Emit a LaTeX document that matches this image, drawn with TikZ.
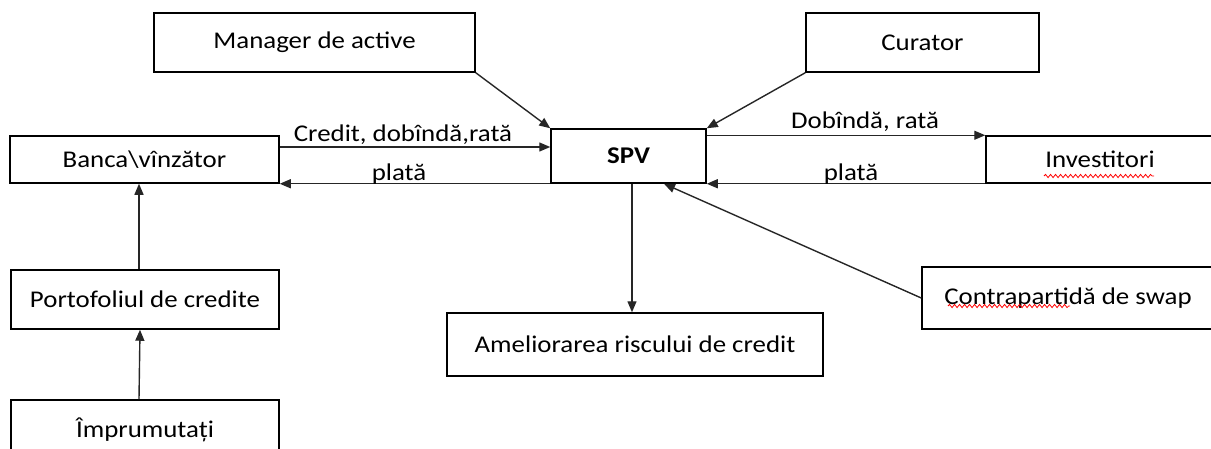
\documentclass[tikz,border=0pt]{standalone}
\usepackage{fontspec}
\setmainfont{Carlito}[FakeStretch=1.12]
\usetikzlibrary{arrows.meta,decorations.pathmorphing}
\begin{document}
\begin{tikzpicture}[x=1pt,y=-1pt,
  box/.style={draw=black,line width=1.5pt,rectangle,inner sep=0pt,align=center,font=\fontsize{24}{26}\selectfont},
  lbl/.style={inner sep=0pt,anchor=base,font=\fontsize{24}{26}\selectfont},
  arr/.style={draw=black!85,line width=1.4pt,-{Triangle[length=11pt,width=9pt]}},
  squig/.style={draw=red,line width=0.8pt,decorate,decoration={snake,amplitude=1.6pt,segment length=5pt}}]
\useasboundingbox (0,0) rectangle (1211,448);
\begin{scope}
\clip (0,0) rectangle (1211,448);
\node[box,minimum width=321pt,minimum height=59pt] (manager) at (314.5,42.5) {Manager de active};
\node[box,minimum width=233pt,minimum height=59pt] (curator) at (922.5,42.5) {Curator};
\node[box,minimum width=269pt,minimum height=47pt] (banca) at (144.5,159.5) {Banca\textbackslash vînzător};
\node[box,minimum width=155pt,minimum height=54pt] (spv) at (628.5,156) {\textbf{SPV}};
\node[box,minimum width=228pt,minimum height=47pt] (investitori) at (1100,159.5) {Investitori};
\node[box,minimum width=268pt,minimum height=59pt] (portofoliu) at (145,299.5) {Portofoliul de credite};
\node[box,minimum width=268pt,minimum height=60pt] (imprumutati) at (145,430) {Împrumutați};
\node[box,minimum width=376pt,minimum height=63pt] (ameliorarea) at (635,344.5) {Ameliorarea riscului de credit};
\node[box,minimum width=292pt,minimum height=62pt] (contra) at (1068,298) {Contrapartidă de swap};
\end{scope}
% connectors
\draw[arr] (manager.south east) -- (spv.north west);
\draw[arr] (curator.south west) -- (spv.north east);
\draw[arr] (banca.east |- 0,147) -- (spv.west |- 0,147);
\draw[arr] (spv.south west) -- (banca.south east);
\draw[arr] (spv.east |- investitori.north west) -- (investitori.north west);
\draw[arr] (investitori.south west) -- (spv.south east);
\draw[arr] (spv.south -| 632,0) -- (ameliorarea.north -| 632,0);
\draw[arr] (contra.west) -- (spv.south -| 664,0);
\draw[arr] (portofoliu.north -| 139,0) -- (banca.south -| 139,0);
\draw[arr] (imprumutati.north -| 139,0) -- (portofoliu.south -| 140,0);
% labels
\node[lbl] (l1) at (403,141) {Credit, dobîndă,rată};
\node[lbl] (l2) at (399,180) {plată};
\node[lbl] (l3) at (865,128) {Dobîndă, rată};
\node[lbl] (l4) at (851,180) {plată};
% spell-check squiggles
\draw[squig] (1044,176) -- (1154,176);
\draw[squig] (948,306) -- (1070,306);
\end{tikzpicture}
\end{document}
